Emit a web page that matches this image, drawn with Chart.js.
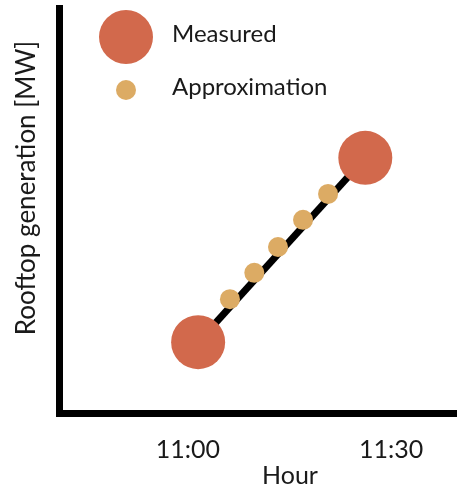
<!DOCTYPE html>
<html>
<head>
<meta charset="utf-8">
<script src="https://cdn.jsdelivr.net/npm/chart.js@4/dist/chart.umd.min.js"></script>
<style>
  html, body { margin: 0; padding: 0; background: #ffffff; }
  #wrap { width: 457px; height: 488px; position: relative; }
</style>
</head>
<body>
<div id="wrap"><canvas id="chart" width="457" height="488"></canvas></div>
<script>
// Time in minutes after 11:00, generation in arbitrary MW units
const measuredX = [1.5, 26.2];
const measuredY = [17.5, 63.0];
const approxX = [6.2, 9.8, 13.3, 17.0, 20.7];
const approxY = [28.1, 34.6, 41.0, 47.7, 54.1];
const tickValues = [0, 30];
const tickLabels = ['11:00', '11:30'];

const RED = '#d2694c';
const GOLD = '#dcab64';
const INK = '#1a1a1a';
const FONT = 'Lato, "Open Sans", sans-serif';

const toPoints = (xs, ys) => xs.map((x, i) => ({ x, y: ys[i] }));

// Legend and axis titles drawn at fixed spots on the canvas
const annotations = {
  id: 'annotations',
  afterDraw(chart) {
    const ctx = chart.ctx;
    ctx.save();
    ctx.textBaseline = 'middle';
    ctx.textAlign = 'left';
    ctx.font = '24px ' + FONT;
    const entries = [
      { ds: 2, cx: 126, cy: 37, ty: 34 },
      { ds: 1, cx: 126, cy: 90, ty: 87 }
    ];
    entries.forEach(e => {
      const d = chart.data.datasets[e.ds];
      ctx.beginPath();
      ctx.arc(e.cx, e.cy, d.pointRadius, 0, Math.PI * 2);
      ctx.fillStyle = d.backgroundColor;
      ctx.fill();
      ctx.fillStyle = INK;
      ctx.fillText(d.label, 172, e.ty);
    });
    ctx.fillStyle = INK;
    ctx.textAlign = 'center';
    ctx.font = '25px ' + FONT;
    ctx.fillText('Hour', 290, 476);
    ctx.font = '26px ' + FONT;
    ctx.translate(27, 188);
    ctx.rotate(-Math.PI / 2);
    ctx.fillText('Rooftop generation [MW]', 0, 0);
    ctx.restore();
  }
};

new Chart(document.getElementById('chart'), {
  type: 'scatter',
  data: {
    datasets: [
      {
        label: 'Trend',
        data: toPoints(measuredX, measuredY),
        showLine: true,
        borderColor: '#000000',
        borderWidth: 7,
        pointRadius: 0,
        order: 3
      },
      {
        label: 'Approximation',
        data: toPoints(approxX, approxY),
        backgroundColor: GOLD,
        borderWidth: 0,
        pointRadius: 10,
        order: 2
      },
      {
        label: 'Measured',
        data: toPoints(measuredX, measuredY),
        backgroundColor: RED,
        borderWidth: 0,
        pointRadius: 27,
        order: 1
      }
    ]
  },
  options: {
    responsive: false,
    animation: false,
    layout: { autoPadding: false, padding: { top: 8, right: 0, left: 0, bottom: 0 } },
    plugins: { legend: { display: false }, tooltip: { enabled: false } },
    scales: {
      x: {
        type: 'linear',
        min: -19.06,
        max: 39.75,
        grid: { display: false, drawTicks: false },
        border: { display: true, color: '#000000', width: 7 },
        afterBuildTicks: s => { s.ticks = tickValues.map(v => ({ value: v })); },
        afterFit: s => { s.height = 75; s.paddingLeft = 0; s.paddingRight = 0; },
        ticks: {
          autoSkip: false,
          maxRotation: 0,
          padding: 22,
          color: INK,
          font: { family: FONT, size: 25 },
          callback: v => tickLabels[tickValues.indexOf(v)]
        }
      },
      y: {
        type: 'linear',
        min: 0,
        max: 100,
        grid: { display: false, drawTicks: false },
        border: { display: true, color: '#000000', width: 7 },
        ticks: { display: false },
        afterFit: s => { s.width = 59; s.paddingTop = 0; s.paddingBottom = 0; }
      }
    }
  },
  plugins: [annotations]
});
</script>
</body>
</html>
